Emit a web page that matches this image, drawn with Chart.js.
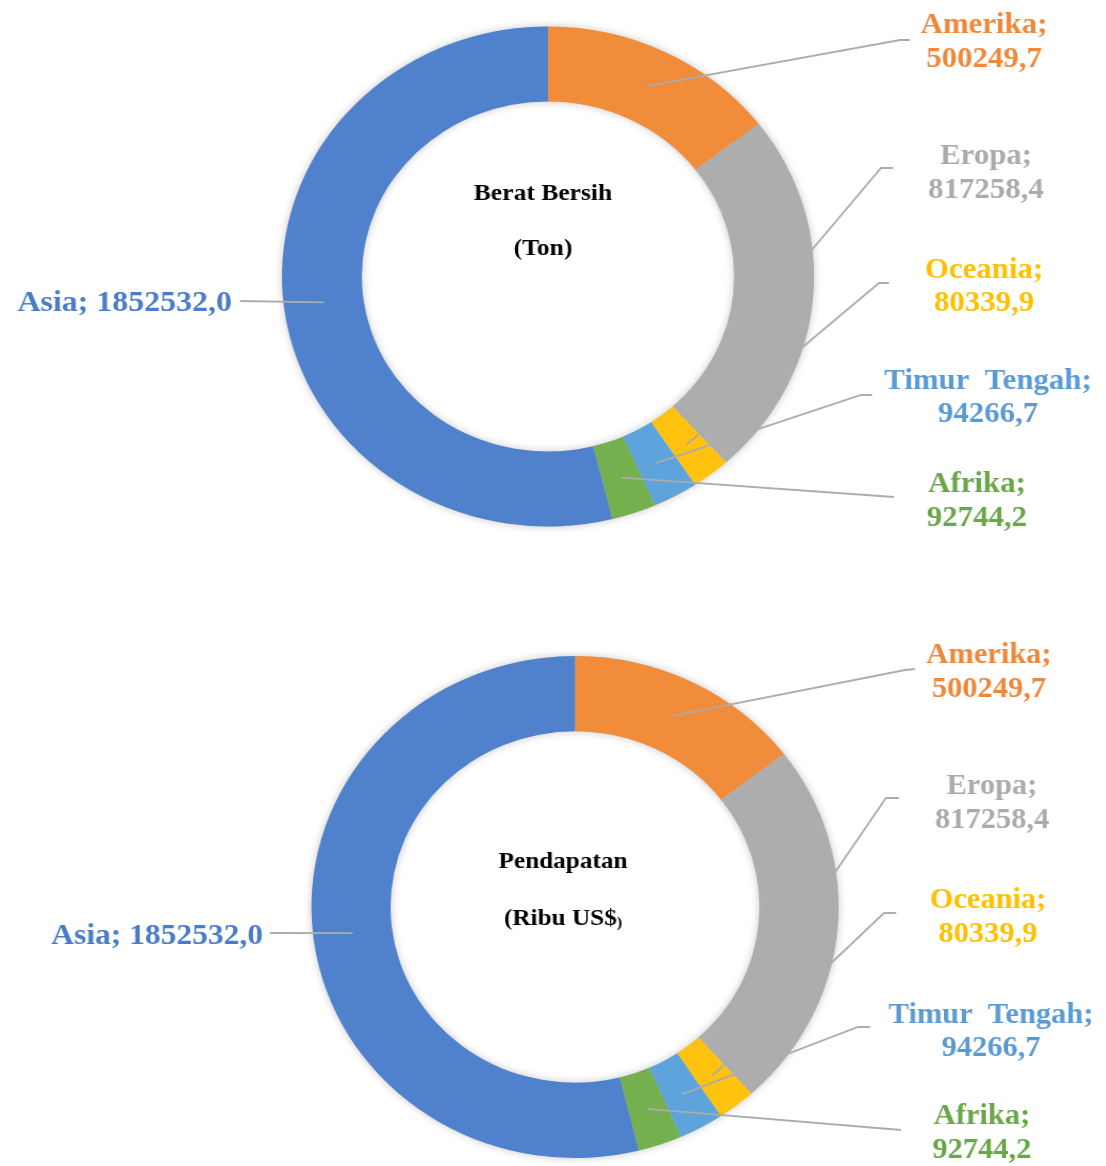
<!DOCTYPE html>
<html><head><meta charset="utf-8">
<script src="https://cdn.jsdelivr.net/npm/chart.js@4.4.1/dist/chart.umd.min.js"></script>
<style>
html,body{margin:0;padding:0;background:#fff;}
body{width:1106px;height:1166px;overflow:hidden;position:relative;}
canvas{position:absolute;left:0;transform-origin:0 0;}
</style></head><body>
<canvas id="c1"></canvas><canvas id="c2"></canvas>
<script>
// ---- data ----
const categories = ['Amerika', 'Eropa', 'Oceania', 'Timur Tengah', 'Afrika', 'Asia'];
const labelNames = ['Amerika;', 'Eropa;', 'Oceania;', 'Timur  Tengah;', 'Afrika;', 'Asia;'];
const beratBersih = [500249.7, 817258.4, 80339.9, 94266.7, 92744.2, 1852532.0];
const pendapatan  = [500249.7, 817258.4, 80339.9, 94266.7, 92744.2, 1852532.0];
const titleBerat = ['Berat Bersih', '(Ton)'];
const titlePendapatan = ['Pendapatan', '(Ribu US$', ')'];

// ---- styles ----
const sliceColors = ['#F08C3A', '#ADADAD', '#FFC20E', '#5EA4DC', '#74B04E', '#4F81CC'];
const labelColors = ['#F0883A', '#ABABAB', '#FFC000', '#5B9BD5', '#6AA747', '#4A7DC8'];
const LINE_COLOR = '#ACACAC';
const LABEL_FONT = 'bold 29px "Liberation Serif", "Times New Roman", serif';
const ASIA_FONT = 'bold 30px "Liberation Serif", "Times New Roman", serif';
const TITLE_FONT = 'bold 24px "Liberation Serif", "Times New Roman", serif';
const PAGE_W = 1106, HALF_H = 583;

function fmt(v) { return v.toFixed(1).replace('.', ','); }

// layout (page coordinates)
const layouts = [
  { id: 'c1', top: 0, cx: 548, cy: 276.5, sx: 1.064, r: 250, values: beratBersih,
    title: titleBerat, titleX: 543, titleY: [200, 255],
    labels: [
      { x: 984, y: [33, 67],   elbow: [900, 40],  stub: [910, 40] },
      { x: 986, y: [164, 198], elbow: [881, 168], stub: [893, 168] },
      { x: 984, y: [278, 311], elbow: [879, 283], stub: [889, 283] },
      { x: 988, y: [389, 422], elbow: [861, 395], stub: [872, 395] },
      { x: 977, y: [492, 526], elbow: [894, 497], stub: [894, 497] },
      { x: 232, y: [311], align: 'right', elbow: [240, 301], stub: [240, 301] }
    ] },
  { id: 'c2', top: HALF_H, cx: 575, cy: 907, sx: 1.05, r: 251, values: pendapatan,
    title: titlePendapatan, titleX: 563, titleY: [868, 925],
    labels: [
      { x: 989, y: [663, 697],   elbow: [905, 670],  stub: [915, 669] },
      { x: 992, y: [794, 828],   elbow: [886, 798],  stub: [899, 798] },
      { x: 988, y: [908, 942],   elbow: [884, 913],  stub: [896, 913] },
      { x: 991, y: [1023, 1056], elbow: [858, 1027], stub: [870, 1027] },
      { x: 982, y: [1124, 1158], elbow: [901, 1130], stub: [901, 1130] },
      { x: 263, y: [944], align: 'right', elbow: [270, 933], stub: [270, 933] }
    ] }
];

const annotatePlugin = {
  id: 'annotate',
  beforeDatasetsDraw(chart) {
    const meta = chart.getDatasetMeta(0);
    const a = meta.data[0];
    if (!a) return;
    const ctx = chart.ctx;
    ctx.save();
    ctx.shadowColor = 'rgba(0,0,0,0.22)';
    ctx.shadowBlur = 9;
    ctx.fillStyle = '#cccccc';
    ctx.beginPath();
    ctx.arc(a.x, a.y, a.outerRadius, 0, Math.PI * 2);
    ctx.arc(a.x, a.y, a.innerRadius, 0, Math.PI * 2, true);
    ctx.fill();
    ctx.restore();
  },
  afterDraw(chart) {
    const L = chart.options.plugins.annotate.layout;
    const ctx = chart.ctx;
    const sx = L.sx, top = L.top;
    const px = x => x / sx, py = y => y - top;
    const meta = chart.getDatasetMeta(0);
    const vals = chart.data.datasets[0].data;
    ctx.save();
    // leader lines
    ctx.strokeStyle = LINE_COLOR;
    ctx.lineWidth = 1.8;
    meta.data.forEach((arc, i) => {
      const p = arc.getCenterPoint();
      const lb = L.labels[i];
      ctx.beginPath();
      ctx.moveTo(p.x, p.y);
      ctx.lineTo(px(lb.elbow[0]), py(lb.elbow[1]));
      ctx.lineTo(px(lb.stub[0]), py(lb.stub[1]));
      ctx.stroke();
    });
    // labels
    ctx.textBaseline = 'alphabetic';
    meta.data.forEach((arc, i) => {
      const lb = L.labels[i];
      ctx.fillStyle = labelColors[i];
      if (lb.y.length === 1) {
        ctx.font = ASIA_FONT;
        ctx.textAlign = lb.align || 'center';
        ctx.fillText(labelNames[i] + ' ' + fmt(vals[i]), px(lb.x), py(lb.y[0]));
      } else {
        ctx.font = LABEL_FONT;
        ctx.textAlign = 'center';
        ctx.fillText(labelNames[i], px(lb.x), py(lb.y[0]));
        ctx.fillText(fmt(vals[i]), px(lb.x), py(lb.y[1]));
      }
    });
    // centre titles
    ctx.fillStyle = '#000';
    ctx.font = TITLE_FONT;
    ctx.textAlign = 'center';
    ctx.fillText(L.title[0], px(L.titleX), py(L.titleY[0]));
    if (L.title.length === 3) {
      const w1 = ctx.measureText(L.title[1]).width;
      ctx.font = 'bold 15px "Liberation Serif", serif';
      const w2 = ctx.measureText(L.title[2]).width;
      const start = px(L.titleX) - (w1 + w2) / 2;
      ctx.textAlign = 'left';
      ctx.font = TITLE_FONT;
      ctx.fillText(L.title[1], start, py(L.titleY[1]));
      ctx.font = 'bold 15px "Liberation Serif", serif';
      ctx.fillText(L.title[2], start + w1, py(L.titleY[1]) + 2);
    } else {
      ctx.fillText(L.title[1], px(L.titleX), py(L.titleY[1]));
    }
    ctx.restore();
  }
};

layouts.forEach(L => {
  const cv = document.getElementById(L.id);
  const W = Math.round(PAGE_W / L.sx);
  cv.width = W; cv.height = HALF_H;
  cv.style.width = W + 'px'; cv.style.height = HALF_H + 'px';
  cv.style.top = L.top + 'px';
  cv.style.transform = 'scaleX(' + L.sx + ')';
  const ccx = L.cx / L.sx, ccy = L.cy - L.top;
  new Chart(cv, {
    type: 'doughnut',
    data: {
      labels: categories,
      datasets: [{ data: L.values, backgroundColor: sliceColors, borderWidth: 0, hoverOffset: 0 }]
    },
    options: {
      responsive: false,
      animation: false,
      devicePixelRatio: 1,
      radius: L.r,
      cutout: '70%',
      rotation: 0,
      layout: { padding: { left: ccx - L.r, right: W - ccx - L.r, top: ccy - L.r, bottom: HALF_H - ccy - L.r } },
      plugins: { legend: { display: false }, tooltip: { enabled: false }, annotate: { layout: L } }
    },
    plugins: [annotatePlugin]
  });
});
</script>
</body></html>
